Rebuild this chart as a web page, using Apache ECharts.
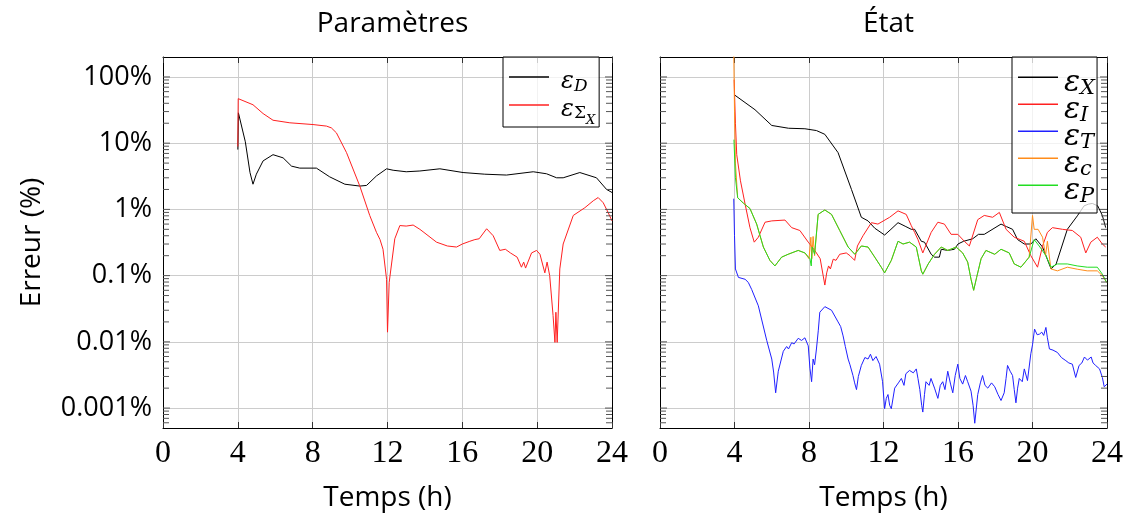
<!DOCTYPE html>
<html>
<head>
<meta charset="utf-8">
<script src="https://cdn.jsdelivr.net/npm/echarts@6.0.0/dist/echarts.min.js"></script>
<style>
  html, body { margin: 0; padding: 0; background: #fff; }
  #chart { width: 1130px; height: 517px; }
</style>
</head>
<body>
<div id="chart"></div>
<script>
// Axis ticks and labels
const xTicks = [0, 4, 8, 12, 16, 20, 24];
const yTickValues = [0.001, 0.01, 0.1, 1, 10, 100];
const yTickLabels = ['0.001%', '0.01%', '0.1%', '1%', '10%', '100%'];
const yMinorMultipliers = [2, 3, 4, 5, 6, 7, 8, 9];
const panelTitles = ['Paramètres', 'État'];
const xAxisTitle = 'Temps (h)';
const yAxisTitle = 'Erreur (%)';

// Parameter errors [time (h), error (%)]
const epsD = [[4.0,8.0],[4.03,28.7],[4.4,10.5],[4.65,3.6],[4.81,2.4],[4.99,3.4],[5.35,5.4],[5.88,6.7],[6.42,6.0],[6.87,4.5],[7.31,4.2],[8.2,4.2],[8.91,3.1],[9.72,2.4],[10.52,2.25],[10.88,2.3],[11.41,3.2],[11.95,4.1],[12.3,3.9],[13.0,3.7],[13.73,3.8],[14.8,4.1],[16.04,3.6],[17.2,3.4],[18.36,3.3],[19.79,3.7],[20.5,3.45],[21.04,3.0],[21.39,3.0],[22.28,3.6],[23.17,3.0],[23.71,2.0],[24.0,1.8]];
const epsSigmaX = [[4.0,8.9],[4.02,47],[4.81,38],[5.35,28],[5.88,22.2],[6.78,20.3],[8.02,19.1],[8.74,18.1],[9.0,17],[9.27,14.3],[9.81,7.2],[10.52,2.25],[11.05,0.81],[11.41,0.45],[11.6,0.35],[11.76,0.25],[11.95,0.088],[12.0,0.014],[12.09,0.079],[12.39,0.36],[12.66,0.57],[13.0,0.56],[13.37,0.58],[13.73,0.5],[13.9,0.46],[14.62,0.32],[15.2,0.28],[15.69,0.27],[16.0,0.3],[16.4,0.33],[16.67,0.35],[16.9,0.36],[17.3,0.51],[17.65,0.4],[18.0,0.24],[18.3,0.25],[18.57,0.22],[18.93,0.19],[19.16,0.134],[19.28,0.16],[19.38,0.13],[19.7,0.22],[19.97,0.24],[20.15,0.21],[20.41,0.11],[20.53,0.16],[20.67,0.1],[20.85,0.025],[20.95,0.0098],[21.0,0.028],[21.07,0.0098],[21.21,0.126],[21.39,0.3],[21.93,0.81],[22.55,1.06],[23.0,1.35],[23.26,1.51],[23.53,1.26],[23.8,0.89],[24.0,0.67]];

// State errors [time (h), error (%)]
const epsX = [[3.98,54],[4.0,51],[5.1,32],[6.0,18.5],[6.9,16.8],[7.78,16.5],[8.4,15.5],[8.85,13.6],[9.56,7.2],[10.28,2.0],[10.81,0.76],[11.17,0.67],[11.53,0.52],[12.06,0.41],[12.4,0.5],[12.78,0.63],[13.2,0.55],[13.49,0.5],[13.67,0.5],[14.03,0.33],[14.2,0.32],[14.56,0.21],[14.74,0.19],[15.0,0.19],[15.1,0.25],[15.45,0.24],[15.81,0.25],[16.0,0.3],[16.3,0.33],[16.79,0.36],[17.1,0.42],[17.41,0.42],[18.31,0.6],[18.6,0.55],[18.93,0.5],[19.2,0.35],[19.56,0.3],[19.91,0.3],[20.18,0.36],[20.54,0.27],[21.0,0.126],[21.27,0.15],[21.87,0.5],[22.41,0.8],[22.77,1.13],[23.0,1.2],[23.21,1.23],[23.5,1.13],[23.75,0.81],[23.93,0.53]];
const epsI = [[3.98,91],[4.05,20],[4.12,6.7],[4.32,2.7],[4.57,1.2],[4.83,0.53],[5.06,0.32],[5.28,0.38],[5.64,0.64],[6.0,0.67],[6.71,0.69],[7.07,0.53],[7.51,0.48],[7.96,0.32],[8.31,0.24],[8.6,0.18],[8.85,0.072],[8.95,0.11],[9.05,0.14],[9.15,0.126],[9.3,0.177],[9.45,0.17],[9.65,0.21],[10.0,0.22],[10.2,0.2],[10.45,0.17],[10.6,0.28],[10.9,0.4],[11.35,0.63],[11.7,0.6],[12.33,0.76],[12.78,0.95],[13.22,0.84],[13.49,0.57],[13.67,0.45],[13.85,0.35],[14.11,0.22],[14.56,0.45],[14.92,0.64],[15.27,0.6],[15.63,0.42],[15.99,0.42],[16.34,0.33],[16.61,0.28],[17.06,0.7],[17.41,0.81],[17.86,0.76],[18.22,0.9],[18.58,0.5],[19.02,0.38],[19.56,0.33],[19.91,0.2],[20.27,0.134],[20.54,0.28],[20.8,0.45],[21.07,0.53],[21.61,0.5],[22.14,0.48],[22.59,0.38],[22.86,0.22],[23.13,0.32],[23.48,0.38],[23.75,0.3],[23.93,0.27]];
const epsT = [[3.96,1.45],[4.0,0.4],[4.05,0.126],[4.21,0.094],[4.57,0.088],[4.74,0.079],[4.92,0.062],[5.28,0.035],[5.73,0.0105],[6.0,0.0055],[6.1,0.0035],[6.21,0.0017],[6.35,0.0036],[6.62,0.0072],[6.8,0.0085],[6.9,0.0078],[7.07,0.0097],[7.2,0.0093],[7.42,0.0113],[7.6,0.0105],[7.78,0.0115],[7.96,0.0087],[8.05,0.004],[8.14,0.0025],[8.22,0.0055],[8.3,0.0045],[8.4,0.0078],[8.5,0.015],[8.58,0.028],[8.85,0.034],[9.21,0.03],[9.56,0.02],[9.7,0.017],[9.83,0.0123],[9.95,0.0085],[10.1,0.0055],[10.2,0.0045],[10.36,0.0031],[10.45,0.0024],[10.55,0.0019],[10.65,0.003],[10.81,0.0044],[11.0,0.0058],[11.17,0.0055],[11.3,0.0065],[11.43,0.0052],[11.6,0.006],[11.79,0.0046],[11.95,0.0025],[12.06,0.00098],[12.15,0.0014],[12.24,0.0016],[12.33,0.0011],[12.42,0.00098],[12.6,0.002],[12.8,0.0024],[12.96,0.0028],[13.1,0.0022],[13.2,0.0033],[13.4,0.0037],[13.6,0.0034],[13.76,0.0039],[13.85,0.0028],[13.95,0.0019],[14.05,0.0011],[14.11,0.00087],[14.2,0.0016],[14.28,0.0025],[14.45,0.0022],[14.55,0.0028],[14.74,0.002],[14.92,0.0014],[15.05,0.0022],[15.18,0.0025],[15.3,0.0019],[15.45,0.0036],[15.6,0.0023],[15.72,0.0017],[15.85,0.0031],[15.99,0.0046],[16.1,0.0028],[16.25,0.0023],[16.4,0.0031],[16.52,0.0025],[16.7,0.0018],[16.81,0.0011],[16.9,0.00059],[17.06,0.0016],[17.2,0.0024],[17.32,0.0031],[17.45,0.0022],[17.6,0.002],[17.8,0.0024],[17.97,0.0021],[18.15,0.0016],[18.31,0.0013],[18.48,0.0017],[18.58,0.0028],[18.66,0.0044],[18.8,0.0036],[18.93,0.0031],[19.02,0.0019],[19.11,0.0012],[19.2,0.002],[19.29,0.0028],[19.45,0.0025],[19.56,0.0039],[19.73,0.0026],[19.91,0.0066],[20.0,0.009],[20.11,0.0156],[20.25,0.0128],[20.38,0.0131],[20.5,0.014],[20.6,0.0125],[20.72,0.0165],[20.8,0.0115],[20.91,0.0078],[21.1,0.0075],[21.34,0.0069],[21.55,0.0058],[21.79,0.0052],[21.95,0.0048],[22.14,0.0046],[22.32,0.0029],[22.5,0.0044],[22.65,0.0048],[22.79,0.0059],[22.95,0.0053],[23.15,0.0059],[23.25,0.0048],[23.39,0.0044],[23.6,0.0039],[23.75,0.0029],[23.85,0.0021],[24.0,0.0023]];
const epsC = [[3.96,250],[4.0,30],[4.05,5],[4.17,1.5],[4.48,1.24],[4.83,1.03],[5.19,0.6],[5.55,0.27],[5.9,0.17],[6.17,0.14],[6.53,0.19],[6.88,0.21],[7.42,0.24],[7.78,0.22],[8.0,0.18],[8.1,0.38],[8.15,0.18],[8.22,0.39],[8.3,0.2],[8.49,0.84],[8.85,0.98],[9.21,0.84],[9.65,0.48],[10.1,0.27],[10.46,0.21],[10.81,0.28],[11.17,0.27],[11.53,0.19],[11.88,0.134],[12.06,0.11],[12.42,0.17],[12.78,0.33],[13.05,0.3],[13.4,0.32],[13.76,0.27],[14.03,0.118],[14.11,0.105],[14.4,0.15],[14.74,0.21],[15.1,0.27],[15.45,0.24],[15.9,0.27],[16.25,0.22],[16.52,0.16],[16.7,0.088],[16.84,0.06],[17.0,0.094],[17.24,0.18],[17.5,0.24],[17.97,0.21],[18.31,0.25],[18.75,0.22],[19.02,0.15],[19.38,0.134],[19.82,0.19],[20.0,0.81],[20.09,0.5],[20.3,0.5],[20.54,0.38],[20.7,0.2],[20.8,0.33],[20.99,0.126],[21.34,0.118],[21.87,0.134],[22.4,0.125],[22.94,0.118],[23.48,0.118],[23.75,0.1],[23.98,0.079]];
const epsP = [[3.97,11.3],[4.05,3.0],[4.17,1.5],[4.48,1.24],[4.83,1.03],[5.19,0.6],[5.55,0.27],[5.9,0.17],[6.17,0.14],[6.53,0.19],[6.88,0.21],[7.42,0.24],[7.78,0.22],[8.05,0.18],[8.12,0.14],[8.17,0.27],[8.3,0.21],[8.49,0.84],[8.85,0.98],[9.21,0.84],[9.65,0.48],[10.1,0.27],[10.46,0.21],[10.81,0.28],[11.17,0.27],[11.53,0.19],[11.88,0.134],[12.06,0.11],[12.42,0.17],[12.78,0.33],[13.05,0.3],[13.4,0.32],[13.76,0.27],[14.03,0.118],[14.11,0.105],[14.4,0.15],[14.74,0.21],[15.1,0.27],[15.45,0.24],[15.9,0.27],[16.25,0.22],[16.52,0.16],[16.7,0.088],[16.84,0.06],[17.0,0.094],[17.24,0.18],[17.5,0.24],[17.97,0.21],[18.31,0.25],[18.75,0.22],[19.02,0.15],[19.38,0.134],[19.82,0.19],[20.09,0.35],[20.36,0.28],[20.72,0.2],[20.99,0.134],[21.34,0.15],[21.87,0.15],[22.4,0.14],[22.94,0.134],[23.48,0.134],[23.75,0.105],[23.98,0.079]];

const SANS = '"Open Sans", "Noto Sans", sans-serif';
const SERIF = '"Liberation Serif", "DejaVu Serif", serif';
const MATH = '"DejaVu Serif", serif';
const Y_MIN = 0.0005, Y_MAX = 200;

const chart = echarts.init(document.getElementById('chart'), null, { renderer: 'canvas' });

const grids = [
  { left: 163, top: 57, width: 449, height: 372 },
  { left: 660, top: 57, width: 447, height: 372 }
];

function yLabel(v) {
  const i = yTickValues.findIndex(t => Math.abs(Math.log10(v) - Math.log10(t)) < 1e-6);
  return i >= 0 ? yTickLabels[i] : '';
}

// Tick marks along the vertical frame sides: decades plus 2..9 within each decade
const frameTicks = [];
yTickValues.concat([0.0001]).forEach(d => {
  if (d >= Y_MIN && d <= Y_MAX) frameTicks.push({ v: d, len: 7 });
  yMinorMultipliers.forEach(m => {
    const v = m * d;
    if (v > Y_MIN && v < Y_MAX) frameTicks.push({ v, len: 6 });
  });
});

function xAxis(gridIndex, position, main) {
  return {
    type: 'value', gridIndex, position,
    min: xTicks[0], max: xTicks[xTicks.length - 1], interval: xTicks[1] - xTicks[0],
    axisLine: { show: true, onZero: false, lineStyle: { color: '#000', width: 1 } },
    axisTick: { show: true, inside: true, length: 6, lineStyle: { color: '#333' } },
    axisLabel: main ? { show: true, margin: 10, fontFamily: SERIF, fontSize: 32, color: '#000' } : { show: false },
    splitLine: { show: main, lineStyle: { color: '#cccccc', width: 1 } },
    name: main ? xAxisTitle : '',
    nameLocation: 'middle', nameGap: 56,
    nameTextStyle: { fontFamily: SANS, fontSize: 28, color: '#000' }
  };
}

function yAxis(gridIndex, position, main, labels) {
  return {
    type: 'log', logBase: 10, gridIndex, position,
    min: Y_MIN, max: Y_MAX,
    axisLine: { show: true, onZero: false, lineStyle: { color: '#000', width: 1 } },
    axisTick: { show: false },
    axisLabel: labels ? { show: true, margin: 11, fontFamily: SANS, fontSize: 27, color: '#000', formatter: yLabel } : { show: false },
    splitLine: { show: main, lineStyle: { color: '#cccccc', width: 1 } },
    name: labels ? yAxisTitle : '',
    nameLocation: 'middle', nameGap: 117,
    nameTextStyle: { fontFamily: SANS, fontSize: 28, color: '#000' }
  };
}

function line(name, data, color, axisIdx) {
  return {
    name, type: 'line', data, xAxisIndex: axisIdx, yAxisIndex: axisIdx,
    symbol: 'none', showSymbol: false, smooth: false, clip: true,
    lineStyle: { color, width: 1 }, itemStyle: { color },
    emphasis: { disabled: true }
  };
}

// Short inward tick marks drawn as thin rectangles anchored on the frame
function frameTickSeries(axisIdx, side) {
  const x = side === 'left' ? xTicks[0] : xTicks[xTicks.length - 1];
  const dir = side === 'left' ? 1 : -1;
  return {
    type: 'scatter', xAxisIndex: axisIdx, yAxisIndex: axisIdx,
    silent: true, clip: false, z: 5,
    symbol: 'rect',
    itemStyle: { color: '#555', opacity: 1 },
    emphasis: { disabled: true },
    data: frameTicks.map(t => ({
      value: [x, t.v],
      symbolSize: [t.len, 1],
      symbolOffset: [dir * t.len / 2, 0]
    }))
  };
}

const legendText = {
  'εD': '{e|ε}{s|D}',
  'εΣX': '{e|ε}{u|Σ}{ss|X}',
  'εX': '{e|ε}{s|X}',
  'εI': '{e|ε}{s|I}',
  'εT': '{e|ε}{s|T}',
  'εc': '{e|ε}{s|c}',
  'εP': '{e|ε}{s|P}'
};

function legend(names, left, size, padding, gap, textGap) {
  const sub = Math.round(size * 0.7);
  return {
    orient: 'vertical', left, top: 57,
    data: names,
    icon: 'rect',
    backgroundColor: 'rgba(255,255,255,0.75)',
    borderColor: '#000', borderWidth: 1, borderRadius: 0,
    padding, itemGap: gap, itemWidth: 40, itemHeight: 1.3,
    selectedMode: false,
    formatter: n => legendText[n],
    textStyle: {
      color: '#000',
      rich: {
        e: { fontFamily: MATH, fontStyle: 'italic', fontSize: size, lineHeight: size * 0.75, padding: [2, 0, 0, textGap], verticalAlign: 'top', color: '#000' },
        s: { fontFamily: MATH, fontStyle: 'italic', fontSize: sub, lineHeight: sub * 0.75, padding: [Math.round(size * 0.4), 0, 0, 0], verticalAlign: 'top', color: '#000' },
        u: { fontFamily: MATH, fontSize: sub, lineHeight: sub * 0.75, padding: [Math.round(size * 0.38), 0, 0, 0], verticalAlign: 'top', color: '#000' },
        ss: { fontFamily: MATH, fontStyle: 'italic', fontSize: 13, lineHeight: 10, padding: [Math.round(size * 0.75), 0, 0, 0], verticalAlign: 'top', color: '#000' }
      }
    }
  };
}

const option = {
  animation: false,
  backgroundColor: '#fff',
  title: [
    { text: panelTitles[0], left: 387.5, top: 5, textAlign: 'center', textStyle: { fontFamily: SANS, fontSize: 28, fontWeight: 'normal', color: '#000' } },
    { text: panelTitles[1], left: 883.5, top: 5, textAlign: 'center', textStyle: { fontFamily: SANS, fontSize: 28, fontWeight: 'normal', color: '#000' } }
  ],
  grid: grids,
  xAxis: [xAxis(0, 'bottom', true), xAxis(0, 'top', false), xAxis(1, 'bottom', true), xAxis(1, 'top', false)],
  yAxis: [yAxis(0, 'left', true, true), yAxis(0, 'right', false, false), yAxis(1, 'left', true, false), yAxis(1, 'right', false, false)],
  legend: [
    legend(['εD', 'εΣX'], 503, 24, [11, 4, 0, 6], 1, 7),
    legend(['εX', 'εI', 'εT', 'εc', 'εP'], 1012, 30, [9, 2, 6, 6], -6, 1)
  ],
  series: [
    frameTickSeries(0, 'left'),
    frameTickSeries(0, 'right'),
    frameTickSeries(2, 'left'),
    frameTickSeries(2, 'right'),
    line('εD', epsD, '#000000', 0),
    line('εΣX', epsSigmaX, '#ff2020', 0),
    line('εX', epsX, '#000000', 2),
    line('εI', epsI, '#ff2020', 2),
    line('εT', epsT, '#2020ff', 2),
    line('εc', epsC, '#ff8c1a', 2),
    line('εP', epsP, '#22dd22', 2)
  ]
};

chart.setOption(option);
</script>
</body>
</html>
